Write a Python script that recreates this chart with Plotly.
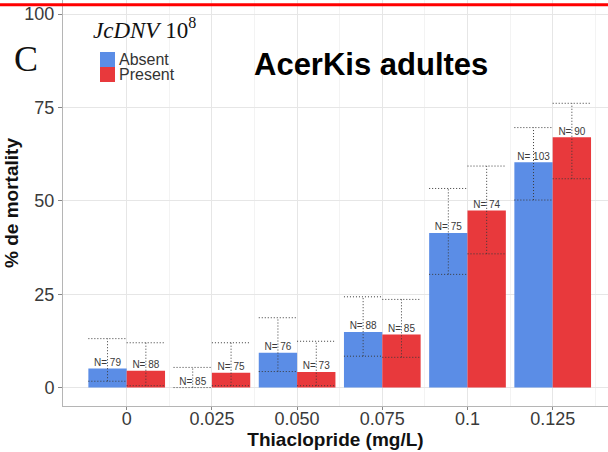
import plotly.graph_objects as go

# ---------------- data ----------------
concentrations = ["0", "0.025", "0.050", "0.075", "0.1", "0.125"]
absent = [5.1, 0.0, 9.3, 14.9, 41.4, 60.3]
present = [4.5, 4.0, 4.2, 14.2, 47.4, 67.0]
absent_upper = [13.1, 5.4, 18.7, 24.3, 53.3, 69.6]
absent_lower = [1.7, 0.0, 4.3, 8.4, 30.3, 50.2]
present_upper = [12.0, 12.0, 12.4, 23.6, 59.3, 76.1]
present_lower = [0.5, 0.5, 0.5, 8.1, 35.8, 55.9]
n_absent = [79, 85, 76, 88, 75, 103]
n_present = [88, 75, 73, 85, 74, 90]
series_names = ["Absent", "Present"]
y_ticks = [0, 25, 50, 75, 100]

# ---------------- style ----------------
BLUE = "#5b8de6"
RED = "#e8393c"
W, H = 608, 452
ML, MB = 63, 46
PW, PH = W - ML, H - MB
BAR_HALF = 0.225
FONT = "Liberation Sans"
SERIF = "Liberation Serif"


def px_x(x):
    return (x - ML) / PW


def px_y(y):
    return 1 - y / PH


idx = list(range(len(concentrations)))
fig = go.Figure()

for name, vals, col, ns, lo, hi, off in [
    (series_names[0], absent, BLUE, n_absent, absent_lower, absent_upper, -BAR_HALF),
    (series_names[1], present, RED, n_present, present_lower, present_upper, BAR_HALF),
]:
    fig.add_trace(go.Bar(x=idx, y=vals, name=name, marker=dict(color=col, line=dict(width=0)),
                         showlegend=False, offsetgroup=name))
    ex, ey = [], []
    for i in idx:
        c = i + off
        ex += [c, c, None, c - BAR_HALF, c + BAR_HALF, None, c - BAR_HALF, c + BAR_HALF, None]
        ey += [lo[i], hi[i], None, hi[i], hi[i], None, lo[i], lo[i], None]
    fig.add_trace(go.Scatter(x=ex, y=ey, mode="lines", showlegend=False, hoverinfo="skip",
                             line=dict(color="#3a3a3a", width=1, dash="1px,2px")))
    fig.add_trace(go.Scatter(x=[i + off for i in idx], y=vals, mode="text",
                             text=[f"N= {n}" for n in ns], textposition="top center",
                             textfont=dict(family=FONT, size=10, color="#3a3a3a"),
                             showlegend=False, hoverinfo="skip"))

fig.update_layout(
    width=W, height=H,
    margin=dict(l=ML, r=0, t=0, b=MB),
    paper_bgcolor="white", plot_bgcolor="white",
    barmode="group", bargap=0.1, bargroupgap=0,
    showlegend=False,
    font=dict(family=FONT, color="#333333"),
    xaxis=dict(
        range=[-0.7476, 5.649], tickmode="array", tickvals=idx, ticktext=concentrations,
        showgrid=True, gridcolor="#e6e6e6", gridwidth=1,
        minor=dict(tickmode="array", tickvals=[i + 0.5 for i in idx], showgrid=True,
                   gridcolor="#f3f3f3", ticks=""),
        ticks="outside", ticklen=3, tickcolor="#888888", ticklabelstandoff=-7,
        showline=True, linecolor="#b5b5b5", linewidth=1,
        tickfont=dict(size=18, color="#3a3a3a"), zeroline=False,
        title=dict(text="<b>Thiaclopride (mg/L)</b>", font=dict(size=19, color="#111111"), standoff=0),
    ),
    yaxis=dict(
        range=[-4.93, 103.75], tickmode="array", tickvals=y_ticks,
        showgrid=True, gridcolor="#e6e6e6", gridwidth=1, zeroline=False,
        ticks="outside", ticklen=4, tickcolor="#888888",
        showline=True, linecolor="#b5b5b5", linewidth=1,
        tickfont=dict(size=18, color="#3a3a3a"),
        title=dict(text="<b>% de mortality</b>", font=dict(size=19, color="#111111"), standoff=0),
    ),
)

# legend (manual keys)
for k, (name, col) in enumerate(zip(series_names, [BLUE, RED])):
    y0 = 52 + k * 15
    fig.add_shape(type="rect", xref="paper", yref="paper", x0=px_x(100), x1=px_x(115),
                  y0=px_y(y0 + 15), y1=px_y(y0), fillcolor=col, line=dict(width=0))
    fig.add_annotation(xref="paper", yref="paper", x=px_x(117), y=px_y(y0 + 7.5), text=name,
                       showarrow=False, xanchor="left", yanchor="middle",
                       font=dict(family=FONT, size=16, color="#333333"))

fig.add_annotation(xref="paper", yref="paper", x=px_x(91), y=px_y(29),
                   text="<i>JcDNV</i> 10<sup>8</sup>", showarrow=False, xanchor="left", yanchor="middle",
                   font=dict(family=SERIF, size=23, color="#111111"))
fig.add_annotation(xref="paper", yref="paper", x=px_x(26), y=px_y(59), text="C",
                   showarrow=False, xanchor="center", yanchor="middle",
                   font=dict(family=SERIF, size=36, color="#111111"))
fig.add_annotation(xref="paper", yref="paper", x=px_x(371), y=px_y(64),
                   text="<b>AcerKis adultes</b>", showarrow=False, xanchor="center", yanchor="middle",
                   font=dict(family=FONT, size=31, color="#000000"))

# red line across the top
fig.add_shape(type="line", xref="paper", yref="paper", x0=px_x(0), x1=px_x(W),
              y0=px_y(4.7), y1=px_y(4.7), line=dict(color="#ff0000", width=3))

fig.write_html("out.html")
